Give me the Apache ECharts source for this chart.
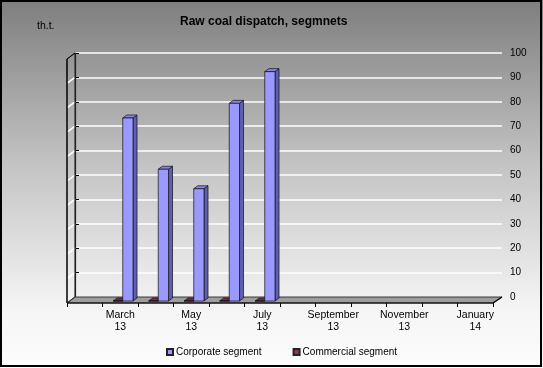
<!DOCTYPE html>
<html>
<head>
<meta charset="utf-8">
<script src="https://cdn.jsdelivr.net/npm/echarts@6/dist/echarts.min.js"></script>
<style>
html,body{margin:0;padding:0;background:#fff;}
#main{width:543px;height:368px;}
</style>
</head>
<body>
<div id="main"></div>
<script>
// ---- data ----
const categories = ['February 13','March 13','April 13','May 13','June 13','July 13','August 13','September 13','October 13','November 13','December 13','January 14'];
const corporate  = [null, 75, 54, 46, 81, 94, null, null, null, null, null, null];
const commercial = [null, 0, 0, 0, 0, 0, null, null, null, null, null, null];
const yMin = 0, yMax = 100, yStep = 10;
const seriesNames = ['Corporate segment', 'Commercial segment'];

const FONT = 'Liberation Sans, Arial, sans-serif';
const chart = echarts.init(document.getElementById('main'), null, {renderer:'canvas'});

function bar3D(cols, f0, f1) {
  return function (params, api) {
    const v = api.value(1);
    if (v === null || v === undefined || isNaN(v)) return null;
    const idx = api.value(0);
    const base = api.coord([idx, 0]);
    const top = api.coord([idx, v]);
    const bw = api.size([1, 0])[0];
    const x0 = base[0] + f0 * bw, x1 = base[0] + f1 * bw;
    const yb = base[1] - 2, yt = top[1] - 2;
    const dx = 4, dy = -3;
    const st = {stroke:'#111', lineWidth:0.7};
    return {type:'group', children:[
      {type:'polygon', shape:{points:[[x1,yb],[x1+dx,yb+dy],[x1+dx,yt+dy],[x1,yt]]}, style:Object.assign({fill:cols.side}, st)},
      {type:'polygon', shape:{points:[[x0,yt],[x1,yt],[x1+dx,yt+dy],[x0+dx,yt+dy]]}, style:Object.assign({fill:cols.top}, st)},
      {type:'rect', shape:{x:x0, y:yt, width:x1-x0, height:Math.max(yb-yt,0)}, style:Object.assign({fill:cols.front}, st)}
    ]};
  };
}

const blue = {front:'#9999FF', top:'#8585E6', side:'#5F5FB0'};
const red  = {front:'#993366', top:'#7A2952', side:'#6B2447'};

const option = {
  animation: false,
  backgroundColor: {type:'linear', x:0, y:0, x2:0, y2:1, colorStops:[
    {offset:0, color:'#7e7e7e'}, {offset:0.45, color:'#c4c4c4'}, {offset:0.85, color:'#f6f6f6'}, {offset:1, color:'#fcfcfc'}]},
  title: {
    text: 'Raw coal dispatch, segmnets',
    left: 175, top: 11,
    textStyle: {fontFamily: FONT, fontSize: 12, fontWeight: 'bold', color: '#000'}
  },
  legend: {
    data: seriesNames,
    left: 166, top: 347,
    itemWidth: 6, itemHeight: 6, itemGap: 31, padding: 0,
    icon: 'rect',
    textStyle: {fontFamily: FONT, fontSize: 10, color: '#000', padding:[0,0,0,-2]}
  },
  grid: [
    {left: 75, right: 41, top: 53, bottom: 71},
    {left: 67, right: 50, top: 59, bottom: 65}
  ],
  xAxis: [
    {gridIndex: 0, type: 'value', min: 0, max: 1, show: false},
    {gridIndex: 1, type: 'category', data: categories, boundaryGap: true,
     axisLine: {show: false},
     axisTick: {show: true, interval: 0, length: 4, lineStyle: {color: '#000', width: 1}},
     axisLabel: {interval: 0, margin: 6, fontFamily: FONT, fontSize: 10.5, color: '#000', lineHeight: 12,
       formatter: function (val, i) { return i % 2 === 1 ? val.replace(' ', '\n') : ''; }},
     splitLine: {show: false}}
  ],
  yAxis: [
    {gridIndex: 0, type: 'value', position: 'right', min: yMin, max: yMax, interval: yStep,
     axisLine: {show: true, lineStyle: {color: '#000', width: 1.2}},
     axisTick: {show: true, length: 4, lineStyle: {color: '#000'}},
     axisLabel: {margin: 8, fontFamily: FONT, fontSize: 10, color: '#000'},
     splitLine: {show: true, lineStyle: {color: '#ffffff', width: 1.5}}},
    {gridIndex: 1, type: 'value', min: yMin, max: yMax, interval: yStep, show: false}
  ],
  series: [
    {name: seriesNames[1], type: 'custom', xAxisIndex: 1, yAxisIndex: 1, z: 3, clip: false,
     itemStyle: {color: red.front, borderColor: '#222', borderWidth: 0.5},
     renderItem: bar3D(red, -0.2, 0.07),
     data: categories.map((c, i) => [i, commercial[i]])},
    {name: seriesNames[0], type: 'custom', xAxisIndex: 1, yAxisIndex: 1, z: 4, clip: false,
     itemStyle: {color: blue.front, borderColor: '#222', borderWidth: 0.5},
     renderItem: bar3D(blue, 0.07, 0.36),
     data: categories.map((c, i) => [i, corporate[i]])}
  ]
};
chart.setOption(option);

// ---- decorative 3D frame (floor, side wall, border) derived from axes ----
function backPt(xf, v) { return chart.convertToPixel({xAxisIndex:0, yAxisIndex:0}, [xf, v]); }
function frontY(v) { return chart.convertToPixel({xAxisIndex:1, yAxisIndex:1}, [0, v])[1]; }
const c0 = chart.convertToPixel({xAxisIndex:1, yAxisIndex:1}, [0, 0])[0];
const cN = chart.convertToPixel({xAxisIndex:1, yAxisIndex:1}, [categories.length - 1, 0])[0];
const bwf = (cN - c0) / (categories.length - 1);
const fl = c0 - bwf / 2, fr = cN + bwf / 2;
const bl = backPt(0, 0)[0], br = backPt(1, 0)[0];
const by0 = backPt(0, yMin)[1], byTop = backPt(0, yMax)[1];
const fy0 = frontY(yMin), fyTop = frontY(yMax);

const g = [];
// floor
g.push({type:'polygon', z:1, shape:{points:[[fl,fy0],[fr,fy0],[br,by0],[bl,by0]]},
        style:{fill:'#9e9e9e', stroke:'#333', lineWidth:1}});
g.push({type:'line', z:1, shape:{x1:fl, y1:fy0, x2:fr, y2:fy0}, style:{stroke:'#000', lineWidth:1.2}});
g.push({type:'line', z:1, shape:{x1:fr, y1:fy0, x2:br, y2:by0}, style:{stroke:'#000', lineWidth:1.2}});
// left wall gridlines
for (let v = yMin + yStep; v <= yMax; v += yStep) {
  g.push({type:'line', z:1, shape:{x1:fl, y1:frontY(v), x2:bl, y2:backPt(0, v)[1]}, style:{stroke:'#fff', lineWidth:1.5}});
}
// left wall edges
g.push({type:'line', z:1, shape:{x1:bl, y1:byTop, x2:bl, y2:by0}, style:{stroke:'#3a3a3a', lineWidth:1.2}});
g.push({type:'line', z:1, shape:{x1:fl, y1:fyTop, x2:fl, y2:fy0}, style:{stroke:'#000', lineWidth:1.5}});
g.push({type:'line', z:1, shape:{x1:fl, y1:fyTop, x2:bl, y2:byTop}, style:{stroke:'#000', lineWidth:1.2}});
g.push({type:'line', z:1, shape:{x1:fl, y1:fy0, x2:bl, y2:by0}, style:{stroke:'#222', lineWidth:1}});
// unit label
g.push({type:'text', z:2, left:37, top:21, style:{text:'th.t.', font:'10.5px ' + FONT, fill:'#000'}});
// outer border
g.push({type:'rect', z:10, shape:{x:1, y:1, width:540, height:365}, style:{fill:'none', stroke:'#000', lineWidth:2}});

chart.setOption({graphic: g});
</script>
</body>
</html>
